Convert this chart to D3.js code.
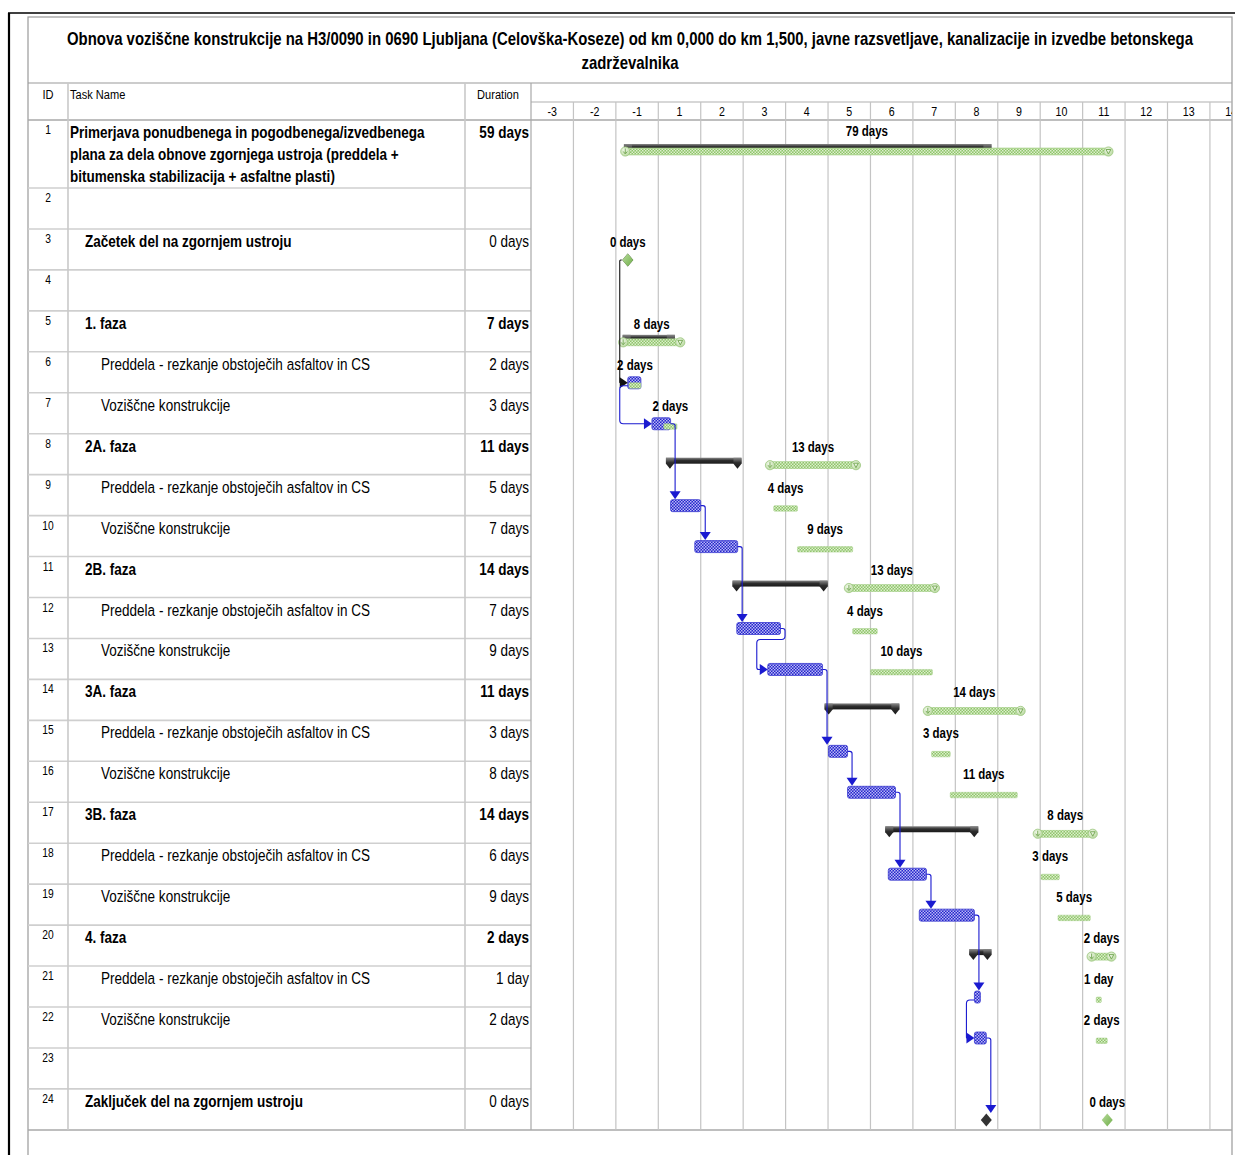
<!DOCTYPE html>
<html><head><meta charset="utf-8">
<script src="https://cdn.jsdelivr.net/npm/d3@7"></script>
<style>
body{margin:0;background:#fff;}
text{font-family:'Liberation Sans','Arial',sans-serif;fill:#000;}
</style></head><body>
<svg id="c" width="1235" height="1155"></svg>
<script>
// ---------------- DATA ----------------
const titleLines = [
  "Obnova voziščne konstrukcije na H3/0090 in 0690 Ljubljana (Celovška-Koseze) od km 0,000 do km 1,500, javne razsvetljave, kanalizacije in izvedbe betonskega",
  "zadrževalnika"
];
const headerLabels = ["ID", "Task Name", "Duration"];
const timeLabels = ["-3","-2","-1","1","2","3","4","5","6","7","8","9","10","11","12","13","14"];

const ids = d3.range(1, 25);
const taskNames = [
  "Primerjava ponudbenega in pogodbenega/izvedbenega\nplana za dela obnove zgornjega ustroja (preddela +\nbitumenska stabilizacija + asfaltne plasti)",
  "",
  "Začetek del na zgornjem ustroju",
  "",
  "1. faza",
  "Preddela - rezkanje obstoječih asfaltov in CS",
  "Voziščne konstrukcije",
  "2A. faza",
  "Preddela - rezkanje obstoječih asfaltov in CS",
  "Voziščne konstrukcije",
  "2B. faza",
  "Preddela - rezkanje obstoječih asfaltov in CS",
  "Voziščne konstrukcije",
  "3A. faza",
  "Preddela - rezkanje obstoječih asfaltov in CS",
  "Voziščne konstrukcije",
  "3B. faza",
  "Preddela - rezkanje obstoječih asfaltov in CS",
  "Voziščne konstrukcije",
  "4. faza",
  "Preddela - rezkanje obstoječih asfaltov in CS",
  "Voziščne konstrukcije",
  "",
  "Zaključek del na zgornjem ustroju"
];
const outlineLevel = [1,0,2,0,2,3,3,2,3,3,2,3,3,2,3,3,2,3,3,2,3,3,0,2];
const durations = ["59 days","","0 days","","7 days","2 days","3 days","11 days","5 days","7 days","14 days","7 days","9 days","11 days","3 days","8 days","14 days","6 days","9 days","2 days","1 day","2 days","","0 days"];
const kinds = ["summary","blank","milestone","blank","summary","task","task","summary","task","task","summary","task","task","summary","task","task","summary","task","task","summary","task","task","blank","milestone"];

// timeline positions, in timescale columns (0 = left edge of column "-3")
const actualStart  = [2.19,null,2.28,null,2.16,2.28,2.85,3.18,3.29,3.86,4.75,4.85,5.58,6.92,7.01,7.46,8.35,8.42,9.15,10.33,10.45,10.45,null,10.73];
const actualFinish = [10.85,null,2.28,null,3.39,2.59,3.29,4.96,4.00,4.87,6.99,5.88,6.87,8.68,7.46,8.59,10.54,9.32,10.45,10.85,10.59,10.73,null,10.73];
const baseStart    = [2.21,null,2.28,null,2.16,2.31,3.13,5.62,5.72,6.28,7.48,7.58,8.00,9.34,9.44,9.88,11.93,12.02,12.42,13.20,13.32,13.32,null,13.58];
const baseFinish   = [13.62,null,2.28,null,3.53,2.59,3.44,7.67,6.28,7.58,9.53,8.16,9.46,11.55,9.88,11.46,13.25,12.45,13.18,13.69,13.44,13.58,null,13.58];
const baseLabels   = ["79 days","","0 days","","8 days","2 days","2 days","13 days","4 days","9 days","13 days","4 days","10 days","14 days","3 days","11 days","8 days","3 days","5 days","2 days","1 day","2 days","","0 days"];

const linkFrom = [3,6,7,9,10,12,13,15,16,18,19,21,22];
const linkTo   = [6,7,9,10,12,13,15,16,18,19,21,22,24];
const linkType = ["SS","SS","FS","FS","FS","FSback","FS","FS","FS","FS","FS","SS","FS"];
const linkColor= ["#111","#1a1ad0","#1a1ad0","#1a1ad0","#1a1ad0","#1a1ad0","#1a1ad0","#1a1ad0","#1a1ad0","#1a1ad0","#1a1ad0","#1a1ad0","#1a1ad0"];

// ---------------- LAYOUT ----------------
const W = 1235, H = 1155;
const frameL = 28, frameR = 1232, frameT = 17;
const titleB = 83, tierY = 102, headB = 120, tableB = 1130;
const colID = 68, colDur = 465, colGantt = 531;
const firstRowH = 68, rowH = 40.95;
const NARROW = 0.82;   // emulate a condensed face

const x = d3.scaleLinear().domain([0, 16.52]).range([colGantt, frameR]);
const rowTop = ids.map((d, i) => i === 0 ? headB : headB + firstRowH + (i - 1) * rowH);
const rowBot = ids.map((d, i) => i === 0 ? headB + firstRowH : rowTop[i] + rowH);

const svg = d3.select("#c");
const defs = svg.append("defs");
defs.append("clipPath").attr("id", "frameClip").append("rect").attr("x", frameL).attr("y", 0).attr("width", frameR - frameL).attr("height", H);

function ntext(g, px, py, str, size, weight = "normal", anchor = "start") {
  return g.append("text").attr("transform", `translate(${px},${py}) scale(${NARROW},1)`)
    .attr("text-anchor", anchor).attr("font-size", size).attr("font-weight", weight).text(str);
}

function checker(id, bg, fg, s) {
  const p = defs.append("pattern").attr("id", id).attr("width", s * 2).attr("height", s * 2).attr("patternUnits", "userSpaceOnUse");
  p.append("rect").attr("width", s * 2).attr("height", s * 2).attr("fill", bg);
  p.append("rect").attr("x", 0).attr("y", 0).attr("width", s).attr("height", s).attr("fill", fg);
  p.append("rect").attr("x", s).attr("y", s).attr("width", s).attr("height", s).attr("fill", fg);
}
checker("blueChk", "#2424cc", "#b9b9f4", 1.5);
checker("greenChk", "#8fc46a", "#dcefcc", 1.5);
const g1 = defs.append("linearGradient").attr("id", "blackGrad").attr("x1", 0).attr("y1", 0).attr("x2", 0).attr("y2", 1);
g1.append("stop").attr("offset", "0%").attr("stop-color", "#8a8a8a");
g1.append("stop").attr("offset", "45%").attr("stop-color", "#2e2e2e");
g1.append("stop").attr("offset", "100%").attr("stop-color", "#1a1a1a");
const g2 = defs.append("radialGradient").attr("id", "capGrad").attr("cx", "40%").attr("cy", "35%").attr("r", "70%");
g2.append("stop").attr("offset", "0%").attr("stop-color", "#f1f8ea");
g2.append("stop").attr("offset", "100%").attr("stop-color", "#b7d89c");
const g3 = defs.append("linearGradient").attr("id", "msGrad").attr("x1", 0).attr("y1", 0).attr("x2", 1).attr("y2", 1);
g3.append("stop").attr("offset", "0%").attr("stop-color", "#b9dc9c");
g3.append("stop").attr("offset", "100%").attr("stop-color", "#6fae4a");

const gridC = "#c4c4c4";

// ---------------- FRAME ----------------
svg.append("rect").attr("x", frameL).attr("y", frameT).attr("width", frameR - frameL).attr("height", H - frameT + 5)
  .attr("fill", "none").attr("stroke", "#9a9a9a").attr("stroke-width", 1.2);
svg.append("line").attr("x1", 8).attr("x2", W).attr("y1", 13).attr("y2", 13).attr("stroke", "#000").attr("stroke-width", 1.5);
svg.append("line").attr("x1", 9).attr("x2", 9).attr("y1", 13).attr("y2", H).attr("stroke", "#000").attr("stroke-width", 2.2);

// title
const gTitle = svg.append("g");
titleLines.forEach((t, i) => ntext(gTitle, (frameL + frameR) / 2, 45 + i * 24, t, 18.2, "bold", "middle"));

const lines = svg.append("g");
function hline(x1, x2, y, c = gridC, w = 1.2) { lines.append("line").attr("x1", x1).attr("x2", x2).attr("y1", y).attr("y2", y).attr("stroke", c).attr("stroke-width", w); }
function vline(xx, y1, y2, c = gridC, w = 1.2) { lines.append("line").attr("x1", xx).attr("x2", xx).attr("y1", y1).attr("y2", y2).attr("stroke", c).attr("stroke-width", w); }

hline(frameL, frameR, titleB, "#9a9a9a", 1.2);
hline(colGantt, frameR, tierY, "#b0b0b0", 1.2);
hline(frameL, frameR, headB, "#a8a8a8", 1.6);
hline(frameL, frameR, tableB, "#a8a8a8", 1.6);
ids.forEach((d, i) => { if (i < ids.length - 1) hline(frameL, colGantt, rowBot[i], "#cfcfcf", 1.6); });
vline(colID, titleB, tableB, "#c9c9c9", 1.6);
vline(colDur, titleB, tableB, "#c9c9c9", 1.6);
vline(colGantt, titleB, tableB, "#a8a8a8", 1.2);
d3.range(1, timeLabels.length).forEach(i => { if (x(i) < frameR - 1) vline(x(i), tierY, tableB, gridC, 1.2); });

// headers
const hdr = svg.append("g");
ntext(hdr, (frameL + colID) / 2, 99, headerLabels[0], 13.5, "normal", "middle");
ntext(hdr, colID + 2, 99, headerLabels[1], 13.5);
ntext(hdr, (colDur + colGantt) / 2, 99, headerLabels[2], 13.5, "normal", "middle");
const gTicks = svg.append("g").attr("clip-path", "url(#frameClip)");
timeLabels.forEach((d, i) => ntext(gTicks, x(i + 0.5), 116, d, 13, "normal", "middle"));

// table rows
const tbl = svg.append("g");
ids.forEach((id, i) => {
  const top = rowTop[i];
  ntext(tbl, (frameL + colID) / 2, top + 14, id, 12.5, "normal", "middle");
  const bold = kinds[i] === "summary" || kinds[i] === "milestone";
  const indent = outlineLevel[i] === 1 ? 70 : outlineLevel[i] === 2 ? 85 : 101;
  taskNames[i].split("\n").forEach((ln, k) => ntext(tbl, indent, top + 18 + k * 22, ln, 16.5, bold ? "bold" : "normal"));
  if (durations[i]) ntext(tbl, colGantt - 2, top + 18, durations[i], 16.5, kinds[i] === "summary" ? "bold" : "normal", "end");
});

// ---------------- GANTT ----------------
const gA = svg.append("g"), gB = svg.append("g"), gL = svg.append("g"), gT = svg.append("g");
const diamond = (cx, cy, w, h) => `M${cx},${cy - h}L${cx + w},${cy}L${cx},${cy + h}L${cx - w},${cy}Z`;

ids.forEach((id, i) => {
  const top = rowTop[i], k = kinds[i];
  if (k === "blank") return;
  if (k === "summary") {
    const x0 = x(actualStart[i]), x1 = x(actualFinish[i]), y0 = top + 24;
    gA.append("rect").attr("x", x0).attr("y", y0).attr("width", x1 - x0).attr("height", 6).attr("fill", "url(#blackGrad)");
    [x0, x1 - 8].forEach(cx => gA.append("path")
      .attr("d", `M${cx},${y0}H${cx + 8}V${y0 + 6}L${cx + 4},${y0 + 11}L${cx},${y0 + 6}Z`).attr("fill", "url(#blackGrad)"));
    const b0 = x(baseStart[i]), b1 = x(baseFinish[i]);
    gB.append("rect").attr("x", b0).attr("y", top + 28).attr("width", b1 - b0).attr("height", 7).attr("fill", "url(#greenChk)").attr("stroke", "#a5cf88").attr("stroke-width", 0.6);
    [b0 + 0.5, b1 - 0.5].forEach((cx, j) => {
      gB.append("circle").attr("cx", cx).attr("cy", top + 31.5).attr("r", 4.6).attr("fill", "url(#capGrad)").attr("stroke", "#9cc77f").attr("stroke-width", 0.8);
      gB.append("path").attr("d", j === 0
        ? `M${cx},${top + 28.5}V${top + 33}M${cx - 2},${top + 31.5}L${cx},${top + 34}L${cx + 2},${top + 31.5}`
        : `M${cx - 2.4},${top + 29.5}L${cx + 2.4},${top + 29.5}L${cx},${top + 34}Z`)
        .attr("fill", "none").attr("stroke", "#6fa54e").attr("stroke-width", 0.9);
    });
  } else if (k === "task") {
    const x0 = x(actualStart[i]), x1 = x(actualFinish[i]);
    gA.append("rect").attr("x", x0).attr("y", top + 25).attr("width", x1 - x0).attr("height", 12).attr("rx", 2)
      .attr("fill", "url(#blueChk)").attr("stroke", "#3a3ad0").attr("stroke-width", 0.8);
    const b0 = x(baseStart[i]), b1 = x(baseFinish[i]);
    gB.append("rect").attr("x", b0).attr("y", top + 31).attr("width", b1 - b0).attr("height", 5.5).attr("rx", 1)
      .attr("fill", "url(#greenChk)").attr("stroke", "#a5cf88").attr("stroke-width", 0.5);
  } else if (k === "milestone") {
    gA.append("path").attr("d", diamond(x(actualStart[i]), top + 31, 5.5, 6.5)).attr("fill", "#333");
    gB.append("path").attr("d", diamond(x(baseStart[i]), top + 31, 5.5, 6.5)).attr("fill", "url(#msGrad)");
  }
  if (baseLabels[i]) ntext(gT, x((baseStart[i] + baseFinish[i]) / 2), top + (i === 0 ? 16 : 18), baseLabels[i], 14, "bold", "middle");
});

// links
function rounded(pts, r) {
  let d = `M${pts[0][0]},${pts[0][1]}`;
  for (let i = 1; i < pts.length - 1; i++) {
    const [x0, y0] = pts[i - 1], [x1, y1] = pts[i], [x2, y2] = pts[i + 1];
    const d1 = Math.hypot(x1 - x0, y1 - y0), d2 = Math.hypot(x2 - x1, y2 - y1);
    if (d1 < 0.01 || d2 < 0.01) { d += `L${x1},${y1}`; continue; }
    const rr = Math.min(r, d1 / 2, d2 / 2);
    d += `L${x1 - (x1 - x0) / d1 * rr},${y1 - (y1 - y0) / d1 * rr}Q${x1},${y1} ${x1 + (x2 - x1) / d2 * rr},${y1 + (y2 - y1) / d2 * rr}`;
  }
  const L = pts[pts.length - 1];
  return d + `L${L[0]},${L[1]}`;
}
const midY = i => rowTop[i] + 31;
linkFrom.forEach((f, j) => {
  const a = f - 1, b = linkTo[j] - 1, c = linkColor[j];
  let pts, arrow;
  if (linkType[j] === "SS") {
    const sx = x(actualStart[a]), tx = x(actualStart[b]);
    const lx = Math.min(sx, tx) - 8;
    const sy = midY(a) + (kinds[a] === "task" ? 3 : 0);
    pts = [[sx - (kinds[a] === "milestone" ? 6 : 0), sy], [lx, sy], [lx, midY(b)], [tx - 7, midY(b)]];
    arrow = `M${tx},${midY(b)}L${tx - 8},${midY(b) - 5.5}L${tx - 8},${midY(b) + 5.5}Z`;
  } else if (linkType[j] === "FS") {
    const sx = x(actualFinish[a]), vx = sx + 4.5;
    const tipY = kinds[b] === "milestone" ? midY(b) - 7 : rowTop[b] + 24.5;
    pts = [[sx, midY(a)], [vx, midY(a)], [vx, tipY - 6]];
    arrow = `M${vx},${tipY}L${vx - 5.5},${tipY - 8}L${vx + 5.5},${tipY - 8}Z`;
  } else {
    const sx = x(actualFinish[a]), vx = sx + 4.5, tx = x(actualStart[b]), lx = tx - 11;
    const yy = rowTop[a] + 42;
    pts = [[sx, midY(a)], [vx, midY(a)], [vx, yy], [lx, yy], [lx, midY(b)], [tx - 7, midY(b)]];
    arrow = `M${tx},${midY(b)}L${tx - 8},${midY(b) - 5.5}L${tx - 8},${midY(b) + 5.5}Z`;
  }
  gL.append("path").attr("d", rounded(pts, 3.5)).attr("fill", "none").attr("stroke", c).attr("stroke-width", 1.1);
  gL.append("path").attr("d", arrow).attr("fill", c);
});
</script>
</body></html>
